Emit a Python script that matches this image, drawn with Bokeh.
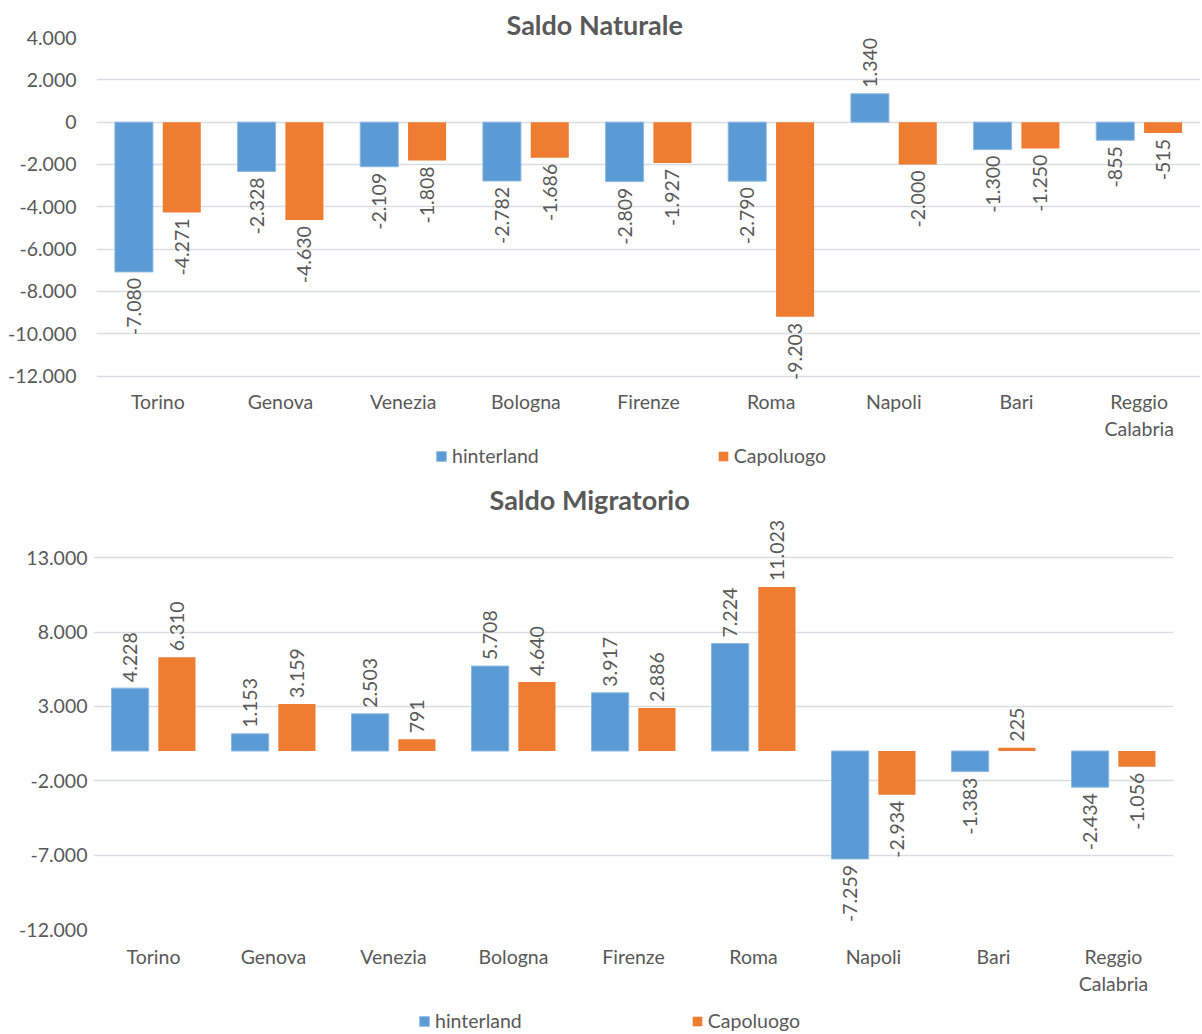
import math
from bokeh.plotting import figure
from bokeh.models import ColumnDataSource, FactorRange, FixedTicker, Legend, LegendItem
from bokeh.transform import dodge
from bokeh.embed import file_html
from bokeh.resources import INLINE
from bokeh.core.properties import value

# ---------------- data ----------------
cities = ["Torino", "Genova", "Venezia", "Bologna", "Firenze", "Roma", "Napoli", "Bari", "Reggio\nCalabria"]
series_names = ["hinterland", "Capoluogo"]

nat_title = "Saldo Naturale"
nat_hinterland = [-7080, -2328, -2109, -2782, -2809, -2790, 1340, -1300, -855]
nat_capoluogo = [-4271, -4630, -1808, -1686, -1927, -9203, -2000, -1250, -515]
nat_yticks = [-12000, -10000, -8000, -6000, -4000, -2000, 0, 2000, 4000]
nat_ytick_labels = ["-12.000", "-10.000", "-8.000", "-6.000", "-4.000", "-2.000", "0", "2.000", "4.000"]

mig_title = "Saldo Migratorio"
mig_hinterland = [4228, 1153, 2503, 5708, 3917, 7224, -7259, -1383, -2434]
mig_capoluogo = [6310, 3159, 791, 4640, 2886, 11023, -2934, 225, -1056]
mig_yticks = [-12000, -7000, -2000, 3000, 8000, 13000]
mig_ytick_labels = ["-12.000", "-7.000", "-2.000", "3.000", "8.000", "13.000"]

# ---------------- style ----------------
BLUE = "#5B9BD5"
BLUE_EDGE = "#8DB8E2"
ORANGE = "#EE7D31"
TEXT = "#595959"
GRID = "#DADDE2"
FONT = "Lato"
FS = "19.5px"
BAR_W = 0.31
OFF = 0.195
W = 1200


def it_fmt(v):
    return f"{v:,}".replace(",", ".")


def make_chart(title, hint, capo, yticks, ylabels, y_start, y_end, height,
               border_left, border_right, border_top, border_bottom,
               ytick_standoff, xtick_standoff, title_standoff, title_offset):
    p = figure(x_range=FactorRange(*cities), y_range=(y_start, y_end),
               width=W, height=height, output_backend="svg", toolbar_location=None,
               min_border_left=border_left, min_border_right=border_right,
               min_border_top=border_top, min_border_bottom=border_bottom,
               title=title)
    p.title.align = "left"
    p.title.offset = title_offset
    p.title.text_font = FONT
    p.title.text_font_size = "27px"
    p.title.text_font_style = "bold"
    p.title.text_color = TEXT
    p.title.standoff = title_standoff
    p.outline_line_color = None

    p.xgrid.grid_line_color = None
    p.ygrid.ticker = FixedTicker(ticks=yticks)
    p.ygrid.grid_line_color = GRID
    p.ygrid.grid_line_width = 1.5

    p.yaxis.ticker = FixedTicker(ticks=yticks)
    p.yaxis.major_label_overrides = {t: lab for t, lab in zip(yticks, ylabels)}
    p.yaxis.axis_line_color = None
    p.yaxis.major_tick_line_color = None
    p.yaxis.minor_tick_line_color = None
    p.yaxis.major_tick_out = 0
    p.yaxis.major_label_standoff = ytick_standoff
    p.yaxis.major_label_text_font = FONT
    p.yaxis.major_label_text_font_size = FS
    p.yaxis.major_label_text_color = TEXT

    p.xaxis.axis_line_color = None
    p.xaxis.major_tick_line_color = None
    p.xaxis.major_tick_out = 0
    p.xaxis.major_label_standoff = xtick_standoff
    p.xaxis.major_label_text_font = FONT
    p.xaxis.major_label_text_font_size = FS
    p.xaxis.major_label_text_color = TEXT

    src = ColumnDataSource(dict(city=cities, hint=hint, capo=capo))
    p.vbar(x=dodge("city", -OFF, range=p.x_range), top="hint", bottom=0, width=BAR_W,
           source=src, fill_color=BLUE, line_color=BLUE_EDGE, line_width=1)
    p.vbar(x=dodge("city", OFF, range=p.x_range), top="capo", bottom=0, width=BAR_W,
           source=src, fill_color=ORANGE, line_color=None)

    for vals, off in ((hint, -OFF), (capo, OFF)):
        for positive in (True, False):
            cs = [c for c, v in zip(cities, vals) if (v >= 0) == positive]
            vs = [v for v in vals if (v >= 0) == positive]
            ts = [it_fmt(v) for v in vs]
            s = ColumnDataSource(dict(city=cs, v=vs, t=ts))
            p.text(x=dodge("city", off, range=p.x_range), y="v", text="t", source=s,
                   angle=math.pi / 2,
                   text_align="left" if positive else "right",
                   text_baseline="middle",
                   y_offset=-6 if positive else 6,
                   text_font=value(FONT), text_font_size=FS, text_color=TEXT)
    return p


def make_legend(height, x, y, spacing):
    # a strip that carries only the legend; its swatch renderers hold one
    # point placed outside the visible range, so no mark is drawn
    lp = figure(width=W, height=height, x_range=(0, 1), y_range=(0, 1),
                output_backend="svg", toolbar_location=None,
                x_axis_location=None, y_axis_location=None,
                min_border_left=0, min_border_right=0, min_border_top=0, min_border_bottom=0)
    lp.grid.visible = False
    lp.outline_line_color = None
    hidden = ColumnDataSource(dict(x=[-10], top=[-10]))
    g1 = lp.vbar(x="x", top="top", bottom=-11, width=0.1, source=hidden,
                 fill_color=BLUE, line_color=BLUE_EDGE)
    g2 = lp.vbar(x="x", top="top", bottom=-11, width=0.1, source=hidden,
                 fill_color=ORANGE, line_color=None)
    legend = Legend(items=[LegendItem(label=series_names[0], renderers=[g1]),
                           LegendItem(label=series_names[1], renderers=[g2])],
                    orientation="horizontal", location=(x, y), spacing=spacing,
                    glyph_width=12, glyph_height=12, label_standoff=5,
                    label_text_font=FONT, label_text_font_size=FS, label_text_color=TEXT,
                    border_line_color=None, background_fill_alpha=0, margin=0, padding=2)
    lp.add_layout(legend)
    return lp


p1 = make_chart(nat_title, nat_hinterland, nat_capoluogo, nat_yticks, nat_ytick_labels,
                -12400, 4000, height=443, border_left=96, border_right=0, border_top=37,
                border_bottom=59, ytick_standoff=20, xtick_standoff=5,
                title_standoff=-6, title_offset=410)
l1 = make_legend(31, 435, 7, 178)
p2 = make_chart(mig_title, mig_hinterland, mig_capoluogo, mig_yticks, mig_ytick_labels,
                -12000, 15700, height=524, border_left=93, border_right=27, border_top=43,
                border_bottom=69, ytick_standoff=6, xtick_standoff=15,
                title_standoff=4, title_offset=396)
l2 = make_legend(34, 418, 0, 169)

open("out.html", "w").write(file_html([p1, l1, p2, l2], INLINE))
